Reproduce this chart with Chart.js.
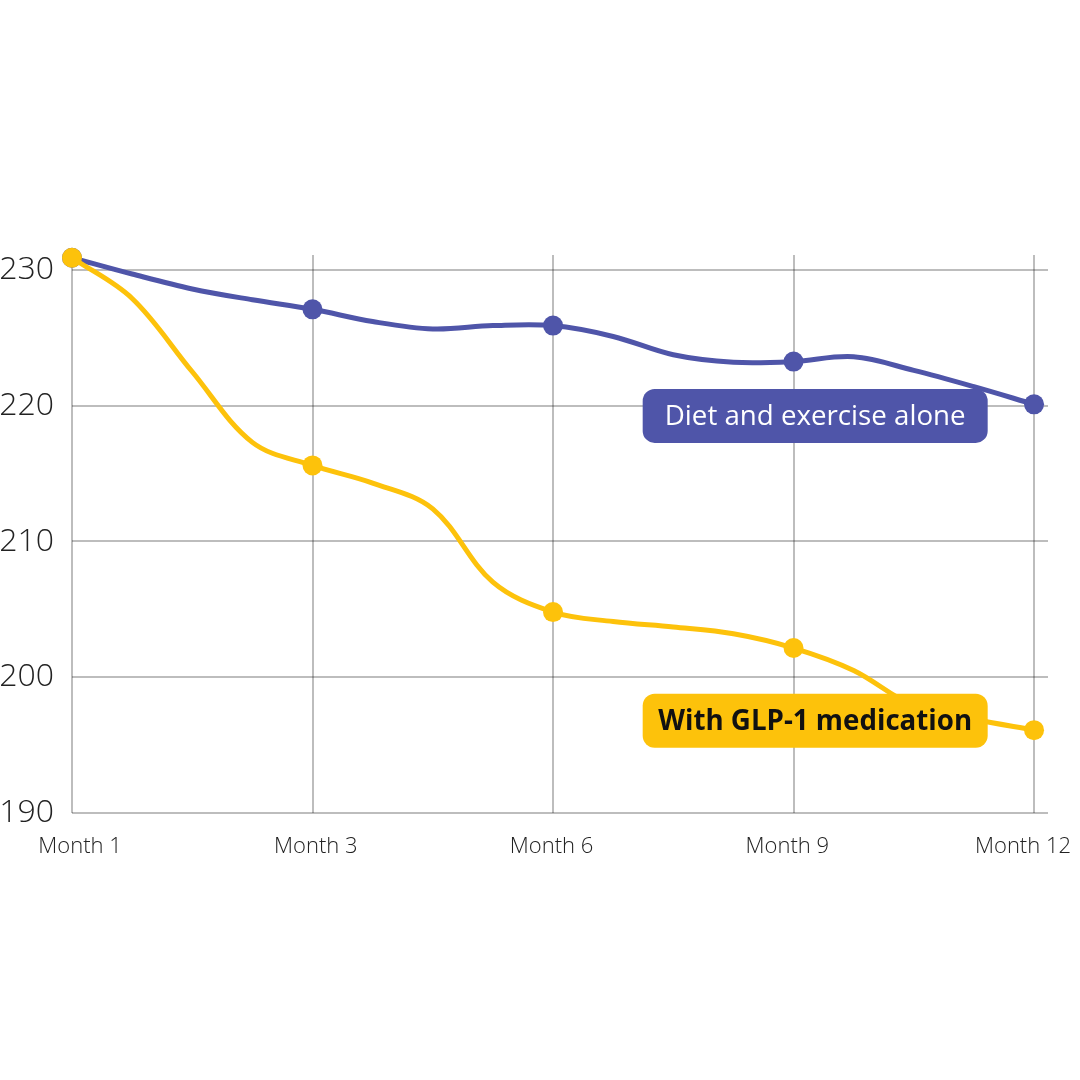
<!DOCTYPE html>
<html>
<head>
<meta charset="utf-8">
<script src="https://cdn.jsdelivr.net/npm/chart.js@4"></script>
<style>
  html, body { margin: 0; padding: 0; background: #ffffff; }
  #wrap { width: 1080px; height: 1080px; }
</style>
</head>
<body>
<div id="wrap"><canvas id="c" width="1080" height="1080"></canvas></div>
<script>
// Category labels at x = 0..4
const monthLabels = ["Month 1", "Month 3", "Month 6", "Month 9", "Month 12"];
// Positions along the x axis where the curve was sampled (integers = marked months)
const samplePositions = [0, 0.25, 0.5, 0.75, 1, 1.25, 1.5, 1.75, 2, 2.25, 2.5, 2.75, 3, 3.25, 3.5, 3.75, 4];
// Values (marked points at integer positions)
const dietValues = [230.9, 229.7, 228.6, 227.8, 227.1, 226.2, 225.65, 225.9, 225.9, 225.1, 223.75, 223.2, 223.25, 223.6, 222.6, 221.4, 220.1];
const glpValues  = [230.9, 227.9, 222.5, 217.3, 215.6, 214.3, 212.4, 207.0, 204.8, 204.1, 203.7, 203.2, 202.15, 200.5, 197.9, 196.9, 196.1];
const yTicks = [190, 200, 210, 220, 230];
const seriesNames = ["Diet and exercise alone", "With GLP-1 medication"];

const BLUE = "#4f55a9";
const YELLOW = "#fdc20b";
const GRID = "rgba(0,0,0,0.26)";

function toPoints(vals) {
  return samplePositions.map((x, i) => ({ x: x, y: vals[i] }));
}
const markerRadius = ctx => (Number.isInteger(ctx.raw && ctx.raw.x) ? 10 : 0);

const labelBoxes = {
  id: "labelBoxes",
  afterDatasetsDraw(chart, args, opts) {
    const ctx = chart.ctx;
    const xs = chart.scales.x, ys = chart.scales.y;
    opts.items.forEach(it => {
      const cx = xs.getPixelForValue(it.x);
      const cy = ys.getPixelForValue(it.y);
      const w = opts.width, h = opts.height, r = opts.radius;
      ctx.save();
      ctx.fillStyle = it.bg;
      ctx.beginPath();
      ctx.roundRect(cx - w / 2, cy - h / 2, w, h, r);
      ctx.fill();
      ctx.fillStyle = it.color;
      ctx.font = it.font;
      ctx.textAlign = "center";
      ctx.textBaseline = "middle";
      ctx.fillText(it.text, cx, cy + 1);
      ctx.restore();
    });
  }
};

new Chart(document.getElementById("c"), {
  type: "line",
  data: {
    datasets: [
      {
        label: seriesNames[0],
        data: toPoints(dietValues),
        borderColor: BLUE,
        backgroundColor: BLUE,
        borderWidth: 5,
        pointRadius: markerRadius,
        pointBorderWidth: 0,
        tension: 0.35,
        clip: false,
        fill: false,
        order: 1
      },
      {
        label: seriesNames[1],
        data: toPoints(glpValues),
        borderColor: YELLOW,
        backgroundColor: YELLOW,
        borderWidth: 5,
        pointRadius: markerRadius,
        pointBorderWidth: 0,
        tension: 0.35,
        clip: false,
        fill: false,
        order: 0
      }
    ]
  },
  options: {
    responsive: false,
    animation: false,
    events: [],
    layout: { padding: { top: 255, right: 32, left: 0, bottom: 0 } },
    plugins: {
      legend: { display: false },
      tooltip: { enabled: false },
      labelBoxes: {
        width: 345, height: 54, radius: 12,
        items: [
          { text: seriesNames[0], x: 3.09, y: 219.25, bg: BLUE, color: "#ffffff",
            font: "400 27.7px 'Open Sans'" },
          { text: seriesNames[1], x: 3.09, y: 196.8, bg: YELLOW, color: "#111111",
            font: "700 27.7px 'Open Sans'" }
        ]
      }
    },
    scales: {
      // grid axis used by the data
      x: {
        type: "linear",
        position: "bottom",
        weight: 0,
        min: 0,
        max: 4.058,
        afterFit: s => { s.height = 0; s.paddingLeft = 0; s.paddingRight = 0; },
        ticks: { stepSize: 1, includeBounds: false, display: false },
        grid: { color: GRID, lineWidth: 2, drawTicks: false },
        border: { display: false }
      },
      // month label axis
      xl: {
        type: "linear",
        position: "bottom",
        weight: 1,
        min: -0.034,
        max: 4.106,
        afterFit: s => { s.height = 267; s.paddingLeft = 0; s.paddingRight = 0; },
        afterBuildTicks: s => { s.ticks = monthLabels.map((_, i) => ({ value: i })); },
        ticks: {
          padding: 21,
          color: "#222222",
          font: { family: "'Open Sans'", size: 22, weight: 300 },
          callback: v => monthLabels[v] ?? ""
        },
        grid: { display: false, drawTicks: false },
        border: { display: false }
      },
      y: {
        min: 190,
        max: 231.1,
        afterFit: s => { s.width = 72; s.paddingTop = 0; s.paddingBottom = 0; },
        afterBuildTicks: s => { s.ticks = yTicks.map(v => ({ value: v })); },
        ticks: {
          padding: 18,
          color: "#222222",
          font: { family: "'Open Sans'", size: 32, weight: 300 }
        },
        grid: { color: GRID, lineWidth: 2, drawTicks: false },
        border: { display: false }
      }
    }
  },
  plugins: [labelBoxes]
});
</script>
</body>
</html>
